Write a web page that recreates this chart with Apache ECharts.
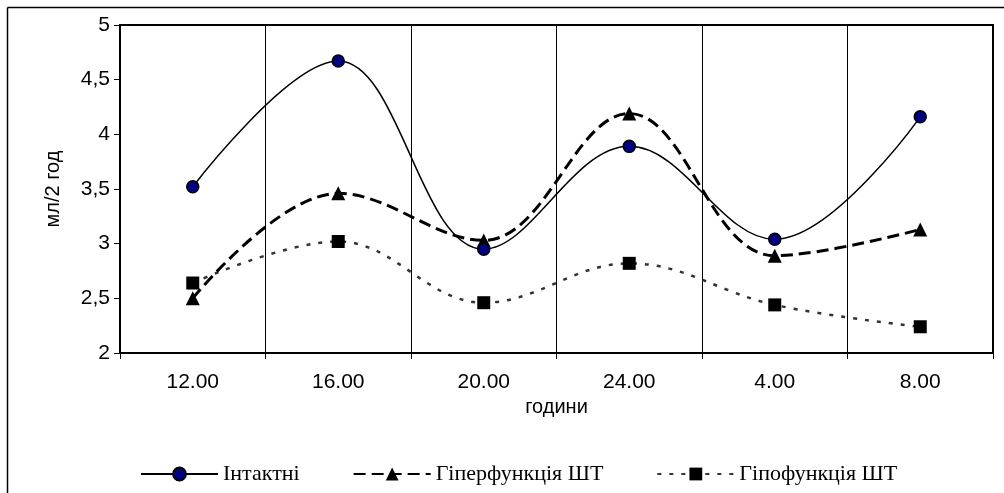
<!DOCTYPE html>
<html>
<head>
<meta charset="utf-8">
<script src="https://cdn.jsdelivr.net/npm/echarts@6/dist/echarts.min.js"></script>
<style>html,body{margin:0;padding:0;background:#fff}#c{width:1004px;height:493px}</style>
</head>
<body>
<div id="c"></div>
<script>
const categories = ['12.00', '16.00', '20.00', '24.00', '4.00', '8.00'];
const intact = [3.52, 4.67, 2.95, 3.89, 3.04, 4.16];
const hyper = [2.50, 3.46, 3.03, 4.19, 2.89, 3.13];
const hypo = [2.64, 3.02, 2.46, 2.82, 2.44, 2.24];
const seriesNames = ['Інтактні', 'Гіперфункція ШТ', 'Гіпофункція ШТ'];
const yTicks = { min: 2, max: 5, interval: 0.5 };

const chart = echarts.init(document.getElementById('c'));
const sans = 'Liberation Sans, Arial, sans-serif';
chart.setOption({
  animation: false,
  backgroundColor: '#fff',
  graphic: [
    { type: 'line', shape: { x1: 7.5, y1: 7.5, x2: 1004, y2: 7.5 }, style: { stroke: '#000', lineWidth: 1.5 } },
    { type: 'line', shape: { x1: 7.5, y1: 7.5, x2: 7.5, y2: 493 }, style: { stroke: '#000', lineWidth: 1.5 } }
  ],
  grid: { left: 120, right: 11, top: 25, bottom: 140, show: true, borderColor: '#000', borderWidth: 2 },
  legend: {
    left: 135, top: 458, itemWidth: 77, itemHeight: 16, itemGap: 53,
    textStyle: { fontFamily: 'Liberation Serif, Times New Roman, serif', fontSize: 22, color: '#000' },
    data: seriesNames
  },
  xAxis: {
    type: 'category', data: categories, boundaryGap: true,
    axisLine: { lineStyle: { color: '#000', width: 2 } },
    axisTick: { show: true, length: 6, inside: false, lineStyle: { color: '#000', width: 1 } },
    splitLine: { show: true, lineStyle: { color: '#000', width: 1 } },
    axisLabel: { color: '#000', fontSize: 21, fontFamily: sans, margin: 19 },
    name: 'години', nameLocation: 'middle', nameGap: 39,
    nameTextStyle: { color: '#000', fontSize: 20, fontFamily: sans }
  },
  yAxis: {
    type: 'value', min: yTicks.min, max: yTicks.max, interval: yTicks.interval,
    axisLine: { show: true, lineStyle: { color: '#000', width: 2 } },
    axisTick: { show: true, length: 6, lineStyle: { color: '#000', width: 1 } },
    splitLine: { show: false },
    axisLabel: { color: '#000', fontSize: 21, fontFamily: sans, margin: 10,
      formatter: v => String(v).replace('.', ',') },
    name: 'мл/2 год', nameLocation: 'middle', nameGap: 57, nameRotate: 90,
    nameTextStyle: { color: '#000', fontSize: 20, fontFamily: sans }
  },
  series: [
    { name: seriesNames[0], type: 'line', data: intact, smooth: 0.38,
      symbol: 'circle', symbolSize: 12,
      lineStyle: { color: '#000', width: 1.5, type: 'solid' },
      itemStyle: { color: '#000080', borderColor: '#000', borderWidth: 1.5 }, z: 4 },
    { name: seriesNames[1], type: 'line', data: hyper, smooth: 0.38,
      symbol: 'triangle', symbolSize: 14,
      lineStyle: { color: '#000', width: 3, type: [12, 6] },
      itemStyle: { color: '#000', borderColor: '#000', borderWidth: 0 }, z: 3 },
    { name: seriesNames[2], type: 'line', data: hypo, smooth: 0.38,
      symbol: 'rect', symbolSize: 13,
      lineStyle: { color: '#333', width: 2.5, type: [4, 8] },
      itemStyle: { color: '#000', borderColor: '#000', borderWidth: 0 }, z: 2 }
  ]
});
</script>
</body>
</html>
